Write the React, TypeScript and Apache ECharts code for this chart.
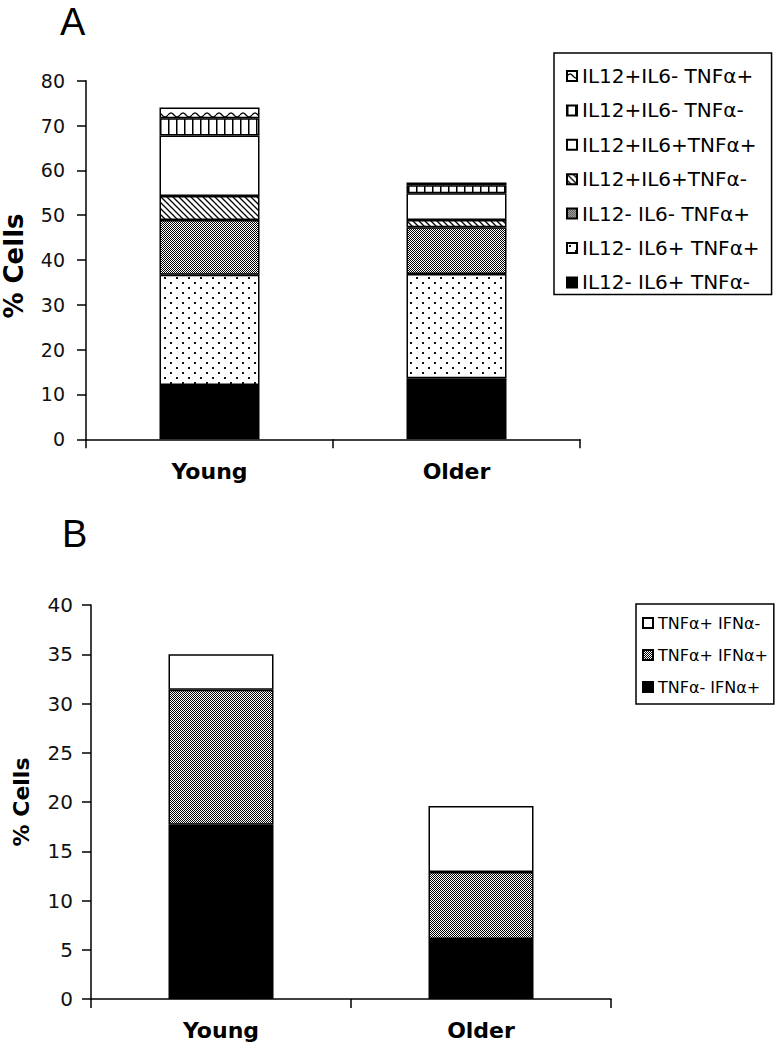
import React, { useEffect, useRef } from 'react';
import * as echarts from 'echarts';

// ---------- DATA ----------
const categories = ['Young', 'Older'];

// Panel A (stacked bottom -> top)
const namesA = [
  'IL12- IL6+ TNFα-',
  'IL12- IL6+ TNFα+',
  'IL12- IL6- TNFα+',
  'IL12+IL6+TNFα-',
  'IL12+IL6+TNFα+',
  'IL12+IL6- TNFα-',
  'IL12+IL6- TNFα+',
];
const il12nIl6pTnfn = [12.1, 13.6];
const il12nIl6pTnfp = [24.6, 23.3];
const il12nIl6nTnfp = [12.2, 10.4];
const il12pIl6pTnfn = [5.4, 1.6];
const il12pIl6pTnfp = [13.5, 6.0];
const il12pIl6nTnfn = [3.8, 1.8];
const il12pIl6nTnfp = [2.4, 0.6];
const valuesA = [il12nIl6pTnfn, il12nIl6pTnfp, il12nIl6nTnfp, il12pIl6pTnfn, il12pIl6pTnfp, il12pIl6nTnfn, il12pIl6nTnfp];
const ticksA = { min: 0, max: 80, interval: 10 };

// Panel B (stacked bottom -> top)
const namesB = ['TNFα- IFNα+', 'TNFα+ IFNα+', 'TNFα+ IFNα-'];
const tnfNegIfnPos = [17.7, 6.1];
const tnfPosIfnPos = [13.7, 6.8];
const tnfPosIfnNeg = [3.6, 6.7];
const valuesB = [tnfNegIfnPos, tnfPosIfnPos, tnfPosIfnNeg];
const ticksB = { min: 0, max: 40, interval: 5 };

const yAxisTitle = '% Cells';

// ---------- PATTERNS ----------
function makePattern(w: number, h: number, draw: (ctx: CanvasRenderingContext2D) => void) {
  const c = document.createElement('canvas');
  c.width = w;
  c.height = h;
  const ctx = c.getContext('2d') as CanvasRenderingContext2D;
  ctx.fillStyle = '#fff';
  ctx.fillRect(0, 0, w, h);
  ctx.fillStyle = '#000';
  ctx.strokeStyle = '#000';
  draw(ctx);
  return { image: c, repeat: 'repeat', imageWidth: w, imageHeight: h } as any;
}

function buildFills() {
  const checker = makePattern(2, 2, (ctx) => {
    ctx.fillRect(0, 0, 1, 1);
    ctx.fillRect(1, 1, 1, 1);
  });
  const dots = makePattern(12, 10, (ctx) => {
    ctx.fillStyle = '#111';
    ctx.fillRect(2, 2, 2, 2);
    ctx.fillRect(8, 7, 2, 2);
  });
  const hatch = makePattern(6, 6, (ctx) => {
    ctx.lineWidth = 1.3;
    ctx.beginPath();
    ctx.moveTo(-1, -1); ctx.lineTo(7, 7);
    ctx.moveTo(-7, -1); ctx.lineTo(1, 7);
    ctx.moveTo(5, -1); ctx.lineTo(13, 7);
    ctx.stroke();
  });
  const vertical = makePattern(8, 4, (ctx) => {
    ctx.fillRect(0, 0, 1.5, 4);
  });
  const wave = makePattern(12, 10, (ctx) => {
    ctx.lineWidth = 1.3;
    ctx.beginPath();
    for (let x = 0; x <= 12; x += 0.5) {
      const y = 5 - 2 * Math.sin((2 * Math.PI * x) / 12);
      if (x === 0) ctx.moveTo(x, y); else ctx.lineTo(x, y);
    }
    ctx.stroke();
  });
  return {
    A: ['#000', dots, checker, hatch, '#fff', vertical, wave],
    B: ['#000', checker, '#fff'],
  };
}

const tickFont = 'DejaVu Sans';

export default function App() {
  const ref = useRef<HTMLDivElement>(null);

  useEffect(() => {
    if (!ref.current) return;
    const chart = echarts.init(ref.current, undefined, { renderer: 'svg' });
    const fills = buildFills();

    const seriesA = namesA.map((name, i) => ({
      name,
      type: 'bar',
      stack: 'A',
      xAxisIndex: 0,
      yAxisIndex: 0,
      barWidth: 100,
      data: valuesA[i],
      itemStyle: { color: fills.A[i], borderColor: '#000', borderWidth: 1.5 },
    }));
    const seriesB = namesB.map((name, i) => ({
      name,
      type: 'bar',
      stack: 'B',
      xAxisIndex: 1,
      yAxisIndex: 1,
      barWidth: 105,
      data: valuesB[i],
      itemStyle: { color: fills.B[i], borderColor: '#000', borderWidth: 1.5 },
    }));

    const xAxisCommon = (margin: number) => ({
      type: 'category',
      data: categories,
      axisLine: { lineStyle: { color: '#000', width: 1.5 } },
      axisTick: { show: true, length: 9, lineStyle: { color: '#000', width: 1.5 } },
      axisLabel: {
        margin,
        color: '#000',
        fontFamily: 'DejaVu Sans',
        fontWeight: 'bold',
        fontSize: 22,
      },
    });

    const yAxisCommon = (t: any, margin: number, fontSize: number) => ({
      type: 'value',
      min: t.min,
      max: t.max,
      interval: t.interval,
      axisLine: { show: true, lineStyle: { color: '#000', width: 1.5 } },
      axisTick: { show: true, length: 9, lineStyle: { color: '#000', width: 1.5 } },
      splitLine: { show: false },
      axisLabel: { margin, color: '#111', fontFamily: tickFont, fontSize },
    });

    const option: any = {
      animation: false,
      backgroundColor: '#fff',
      title: [
        { text: 'A', left: 60, top: 3, padding: 0, textStyle: { fontFamily: 'Liberation Sans', fontSize: 38, fontWeight: 'normal', color: '#000' } },
        { text: 'B', left: 62, top: 515, padding: 0, textStyle: { fontFamily: 'Liberation Sans', fontSize: 38, fontWeight: 'normal', color: '#000' } },
      ],
      graphic: [
        {
          type: 'text',
          x: 14,
          y: 266,
          rotation: Math.PI / 2,
          style: {
            text: yAxisTitle,
            fontFamily: 'DejaVu Sans',
            fontWeight: 'bold',
            fontSize: 26,
            fill: '#000',
            align: 'center',
            verticalAlign: 'middle',
          },
        },
        {
          type: 'text',
          x: 21,
          y: 802,
          rotation: Math.PI / 2,
          style: {
            text: yAxisTitle,
            fontFamily: 'DejaVu Sans',
            fontWeight: 'bold',
            fontSize: 22,
            fill: '#000',
            align: 'center',
            verticalAlign: 'middle',
          },
        },
      ],
      legend: [
        {
          data: namesA.slice().reverse(),
          orient: 'vertical',
          left: 554,
          top: 53,
          itemWidth: 10,
          itemHeight: 10,
          itemGap: 14.4,
          padding: [13, 12, 2, 12],
          borderColor: '#000',
          borderWidth: 1.5,
          selectedMode: false,
          icon: 'rect',
          textStyle: { fontFamily: 'DejaVu Sans', fontSize: 20, color: '#000' },
        },
        {
          data: namesB.slice().reverse(),
          orient: 'vertical',
          left: 636,
          top: 604,
          itemWidth: 10,
          itemHeight: 10,
          itemGap: 16,
          padding: [11, 6, 9, 6],
          borderColor: '#000',
          borderWidth: 1.5,
          selectedMode: false,
          icon: 'rect',
          textStyle: { fontFamily: 'DejaVu Sans', fontSize: 16, color: '#000' },
        },
      ],
      grid: [
        { left: 86, top: 80.7, width: 494, height: 358.6, containLabel: false },
        { left: 91, top: 605, width: 520, height: 394, containLabel: false },
      ],
      xAxis: [
        { ...xAxisCommon(21), gridIndex: 0 },
        { ...xAxisCommon(20), gridIndex: 1 },
      ],
      yAxis: [
        { ...yAxisCommon(ticksA, 21, 19), gridIndex: 0 },
        { ...yAxisCommon(ticksB, 18, 20), gridIndex: 1 },
      ],
      series: [...seriesA, ...seriesB],
    };

    chart.setOption(option);
    return () => {
      chart.dispose();
    };
  }, []);

  return (
    <div
      ref={ref}
      style={{ position: 'absolute', left: 0, top: 0, width: 777, height: 1050, background: '#fff' }}
    />
  );
}
